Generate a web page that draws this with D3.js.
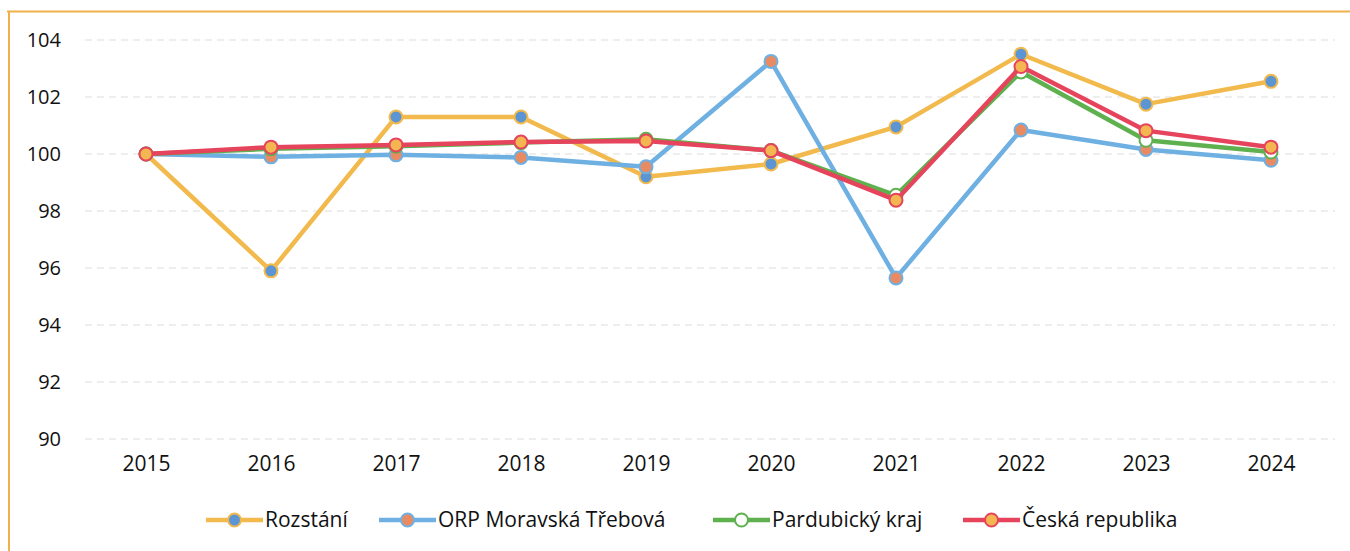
<!DOCTYPE html>
<html>
<head>
<meta charset="utf-8">
<script src="https://cdn.jsdelivr.net/npm/d3@7"></script>
<style>
  html, body { margin: 0; padding: 0; background: #fff; }
  svg { display: block; }
  text { font-family: "Open Sans", "Noto Sans", sans-serif; fill: #111; }
</style>
</head>
<body>
<svg id="chart" width="1350" height="551"></svg>
<script>
const years = ["2015","2016","2017","2018","2019","2020","2021","2022","2023","2024"];
const yTicks = [90, 92, 94, 96, 98, 100, 102, 104];

const rozstani   = [100.0, 95.9, 101.3, 101.3, 99.2, 99.65, 100.95, 103.5, 101.75, 102.55];
const orp        = [100.0, 99.9, 99.97, 99.88, 99.55, 103.25, 95.65, 100.84, 100.16, 99.78];
const pardubicky = [100.0, 100.18, 100.27, 100.4, 100.52, 100.12, 98.55, 102.88, 100.48, 100.07];
const cr         = [100.0, 100.24, 100.32, 100.42, 100.46, 100.12, 98.38, 103.07, 100.82, 100.24];

const seriesNames = ["Rozstání", "ORP Moravská Třebová", "Pardubický kraj", "Česká republika"];
const seriesValues = [rozstani, orp, pardubicky, cr];
const lineColors = ["#f2b94c", "#6fb0e2", "#5fb14f", "#e6445c"];
const markerFills = ["#5b95d3", "#e98b62", "#ffffff", "#f3b651"];

const svg = d3.select("#chart");

// frame
svg.append("line").attr("x1", 7).attr("x2", 1350).attr("y1", 11.5).attr("y2", 11.5)
  .attr("stroke", "#efb24a").attr("stroke-width", 2);
svg.append("line").attr("x1", 9).attr("x2", 9).attr("y1", 11).attr("y2", 551)
  .attr("stroke", "#efb24a").attr("stroke-width", 2);

const x = d3.scalePoint().domain(years).range([146, 1271]);
const y = d3.scaleLinear().domain([90, 104]).range([439, 40]);

// gridlines
svg.append("g").selectAll("line").data(yTicks).join("line")
  .attr("x1", 85).attr("x2", 1335)
  .attr("y1", d => y(d)).attr("y2", d => y(d))
  .attr("stroke", "#dedede").attr("stroke-width", 1.2)
  .attr("stroke-dasharray", "7,5");

// y axis labels
const yAxis = d3.axisLeft(y).tickValues(yTicks).tickSize(0).tickPadding(0);
const gy = svg.append("g").attr("transform", "translate(61,0)").call(yAxis);
gy.select(".domain").remove();
gy.selectAll("text").attr("font-size", 20).style("font-family", '"Open Sans", sans-serif').attr("fill", "#111");

// x axis labels
const xAxis = d3.axisBottom(x).tickSize(0).tickPadding(0);
const gx = svg.append("g").attr("transform", "translate(0,456)").call(xAxis);
gx.select(".domain").remove();
gx.selectAll("text").attr("font-size", 21).style("font-family", '"Open Sans", sans-serif').attr("fill", "#111");

// series
const line = d3.line().x((d, i) => x(years[i])).y(d => y(d));
seriesValues.forEach((vals, s) => {
  const g = svg.append("g");
  g.append("path").datum(vals).attr("d", line)
    .attr("fill", "none").attr("stroke", lineColors[s]).attr("stroke-width", 4.5)
    .attr("stroke-linejoin", "round");
  g.selectAll("circle").data(vals).join("circle")
    .attr("cx", (d, i) => x(years[i])).attr("cy", d => y(d)).attr("r", 6.5)
    .attr("fill", markerFills[s]).attr("stroke", lineColors[s]).attr("stroke-width", 2);
});

// legend
const legendX = [206, 379, 713, 963];
const legendY = 520;
const lg = svg.append("g");
seriesNames.forEach((name, s) => {
  const g = lg.append("g").attr("transform", `translate(${legendX[s]},${legendY})`);
  g.append("line").attr("x1", 0).attr("x2", 57).attr("y1", 0).attr("y2", 0)
    .attr("stroke", lineColors[s]).attr("stroke-width", 4.5);
  g.append("circle").attr("cx", 28.5).attr("cy", 0).attr("r", 6.5)
    .attr("fill", markerFills[s]).attr("stroke", lineColors[s]).attr("stroke-width", 2);
  g.append("text").attr("x", 59).attr("y", 0).attr("dy", "0.35em")
    .attr("font-size", 21).text(name);
});
</script>
</body>
</html>
